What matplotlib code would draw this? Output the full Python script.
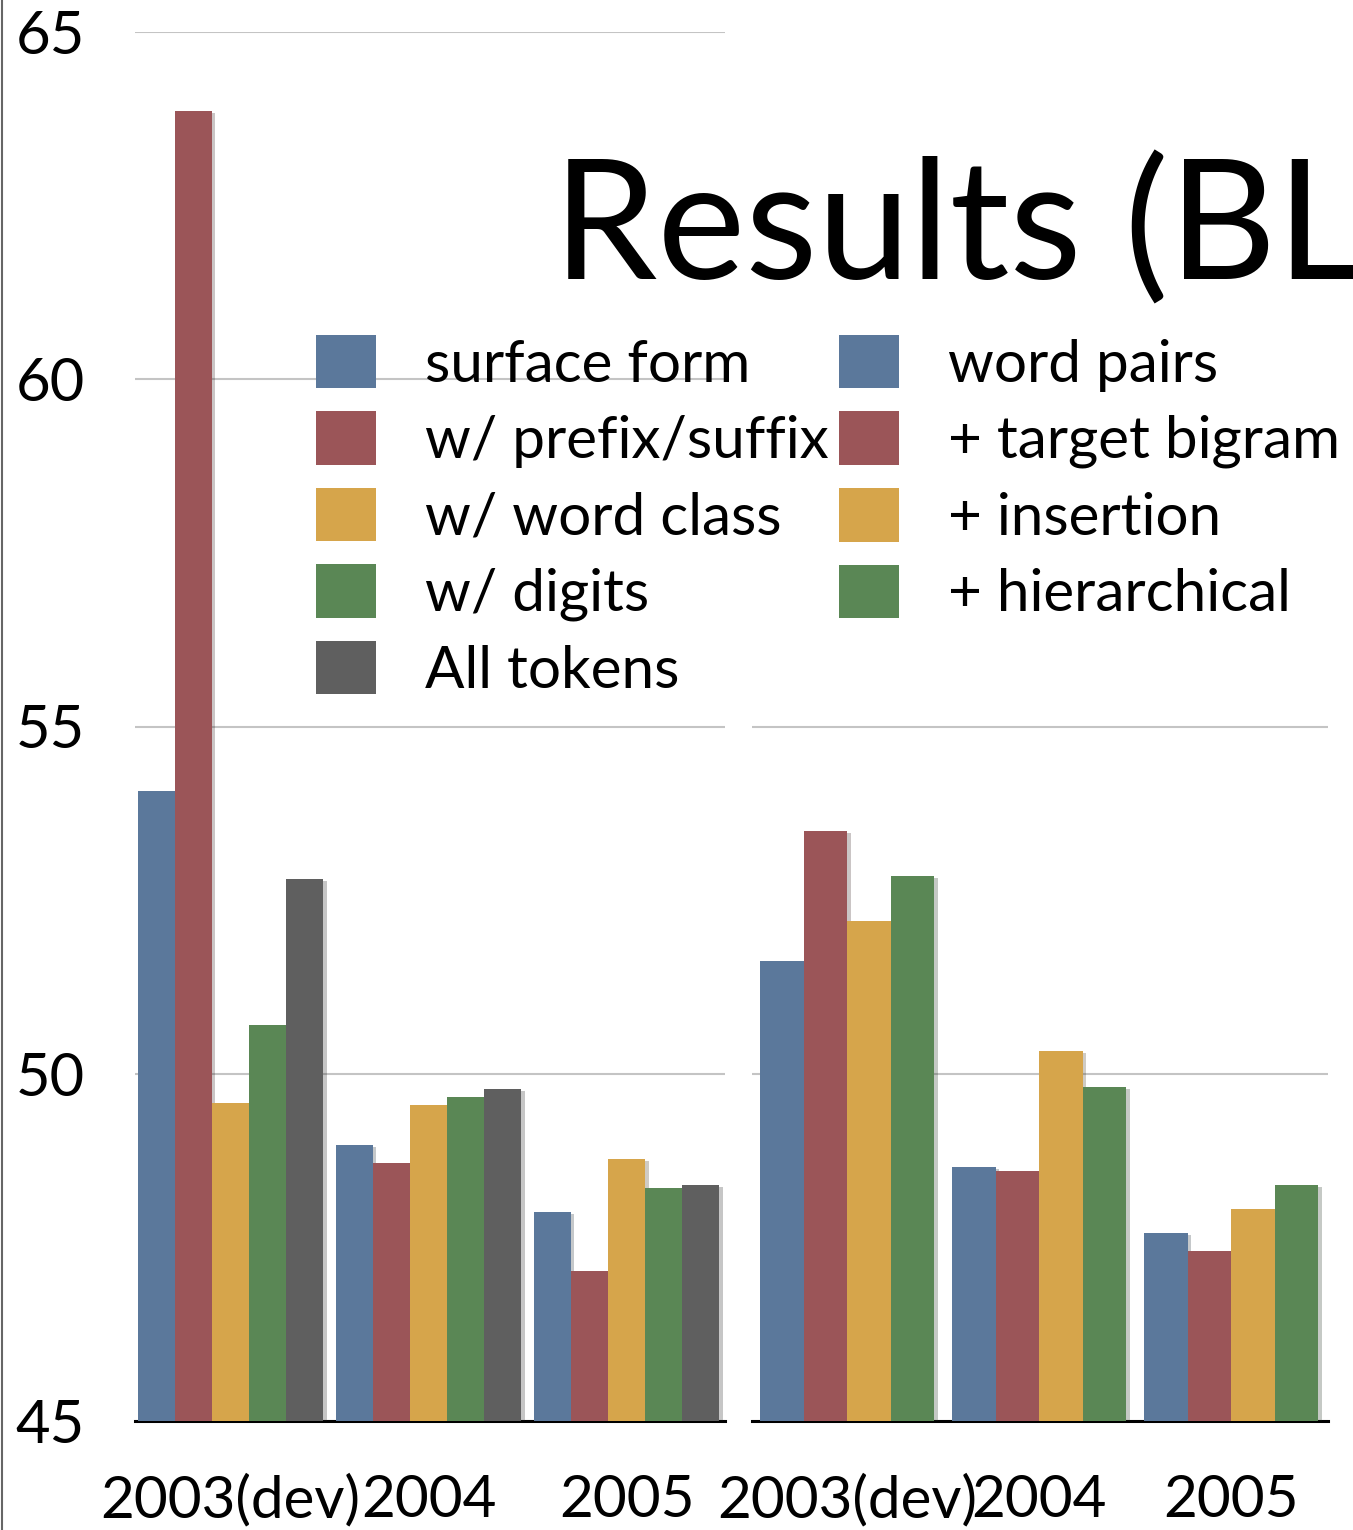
import matplotlib.pyplot as plt
import matplotlib.patheffects as pe
from matplotlib.lines import Line2D

plt.rcParams['font.family'] = ['Lato', 'DejaVu Sans']

W, H = 1353, 1530

years = ['2003(dev)', '2004', '2005']
yticks = [45, 50, 55, 60, 65]

# left panel: token feature variants
feat_labels = ['surface form', 'w/ prefix/suffix', 'w/ word class', 'w/ digits', 'All tokens']
surface = [54.07, 48.97, 48.01]
prefix_suffix = [63.86, 48.71, 47.16]
word_class = [49.58, 49.55, 48.77]
digits = [50.70, 49.67, 48.35]
all_tokens = [52.80, 49.78, 48.40]

# right panel: model components
model_labels = ['word pairs', '+ target bigram', '+ insertion', '+ hierarchical']
word_pairs = [51.62, 48.66, 47.71]
target_bigram = [53.50, 48.60, 47.45]
insertion = [52.20, 50.33, 48.05]
hierarchical = [52.85, 49.81, 48.40]

colors = ['#5b789b', '#9b5558', '#d6a54b', '#5a8755', '#5f5f5f']
FS = 43
XFS = 42
LFS = 42


def px_box(x0, y0, x1, y1):
    return [x0 / W, 1 - y1 / H, (x1 - x0) / W, (y1 - y0) / H]


def draw_panel(ax, series, width, grid_ticks, xlim):
    n = len(series)
    handles = []
    for k, vals in enumerate(series):
        xs = [i + (k - (n - 1) / 2) * width for i in range(len(vals))]
        bars = ax.bar(xs, vals, width, color=colors[k], zorder=3)
        for r in bars:
            r.set_path_effects([pe.SimplePatchShadow(offset=(2.5, -1.5), alpha=0.25), pe.Normal()])
        handles.append(bars)
    ax.set_ylim(45, 65)
    ax.set_xlim(*xlim)
    ax.set_yticks(grid_ticks)
    ax.yaxis.grid(True, color='#c4c4c4', lw=1.5)
    ax.set_axisbelow(True)
    for s in ['top', 'right', 'left']:
        ax.spines[s].set_visible(False)
    ax.spines['bottom'].set_linewidth(2.2)
    ax.spines['bottom'].set_color('black')
    ax.set_xticks(range(len(years)))
    ax.set_xticklabels(years, fontsize=XFS)
    ax.tick_params(axis='x', length=0, pad=38)
    ax.tick_params(axis='y', length=0)
    return handles


fig = plt.figure(figsize=(W / 100, H / 100), dpi=100)

ax1 = fig.add_axes(px_box(135, 32, 725, 1421))
h1 = draw_panel(ax1, [surface, prefix_suffix, word_class, digits, all_tokens],
                0.187, yticks, (-0.482, 2.497))
ax1.set_yticklabels([str(t) for t in yticks], fontsize=FS)
ax1.tick_params(axis='y', pad=86)
for lab in ax1.get_yticklabels():
    lab.set_horizontalalignment('left')

ax2 = fig.add_axes(px_box(752, 32, 1328, 1421))
h2 = draw_panel(ax2, [word_pairs, target_bigram, insertion, hierarchical],
                0.2266, [45, 50, 55], (-0.495, 2.505))
ax2.set_yticklabels([])

# vertical rule along the left edge
fig.add_artist(Line2D([2 / W, 2 / W], [0, 1], color='#666666', lw=1.5))

fig.text(553 / W, 1 - 280 / H, 'Results (BLEU)', fontsize=120, va='baseline', ha='left')

leg_kw = dict(loc='upper left', frameon=False, fontsize=LFS, borderpad=0, borderaxespad=0,
              handlelength=60 / (LFS * 100 / 72), handleheight=60 / (LFS * 100 / 72),
              handletextpad=49 / (LFS * 100 / 72), labelspacing=0.34,
              bbox_transform=fig.transFigure)
leg1 = fig.legend(h1, feat_labels, bbox_to_anchor=(316 / W, 1 - 335 / H), **leg_kw)
leg2 = fig.legend(h2, model_labels, bbox_to_anchor=(839 / W, 1 - 335 / H), **leg_kw)
for leg in (leg1, leg2):
    for p in leg.get_patches():
        p.set_path_effects([])

fig.savefig('out.png', dpi=100)
